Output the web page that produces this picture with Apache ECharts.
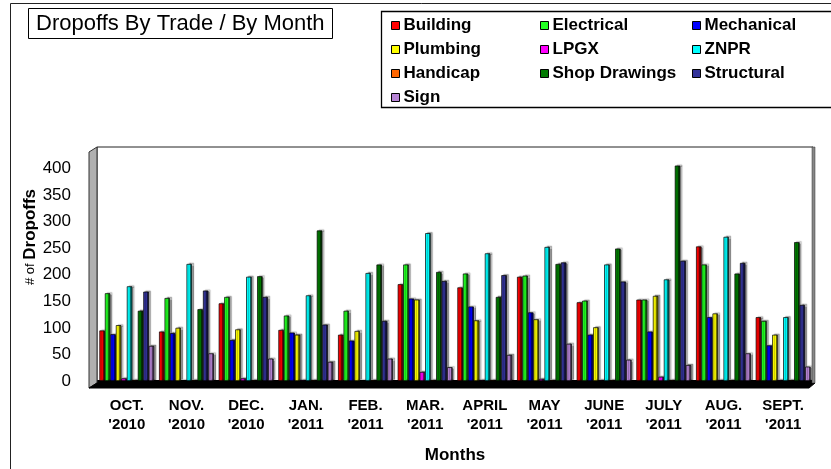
<!DOCTYPE html>
<html><head><meta charset="utf-8">
<script src="https://cdn.jsdelivr.net/npm/echarts@6/dist/echarts.min.js"></script>
<style>html,body{margin:0;padding:0;background:#fff}#c{width:831px;height:469px}</style>
</head><body><div id="c"></div>
<script>
const months = ["OCT.\n'2010","NOV.\n'2010","DEC.\n'2010","JAN.\n'2011","FEB.\n'2011","MAR.\n'2011","APRIL\n'2011","MAY\n'2011","JUNE\n'2011","JULY\n'2011","AUG.\n'2011","SEPT.\n'2011"];
const yTicks = [0,50,100,150,200,250,300,350,400];
const building   = [95,93,146,96,87,182,176,196,148,153,253,120];
const electrical = [165,156,158,123,132,219,202,198,151,153,219,113];
const mechanical = [88,90,77,91,76,155,140,129,87,93,120,67];
const plumbing   = [105,100,97,87,94,153,114,116,101,160,127,87];
const lpgx       = [5,1,5,2,1,17,2,4,2,8,2,2];
const znpr       = [178,220,196,161,203,278,240,252,219,191,271,120];
const handicap   = [2,2,2,2,2,2,2,2,2,2,2,2];
const shopDrawings = [132,135,197,283,219,205,158,220,249,405,202,261];
const structural = [168,170,158,106,113,188,199,223,187,226,222,143];
const sign       = [66,52,42,36,42,26,49,70,40,30,52,27];

const seriesDefs = [
  ['Building', building, '#FF0000'],
  ['Electrical', electrical, '#22FF22'],
  ['Mechanical', mechanical, '#0000FF'],
  ['Plumbing', plumbing, '#FFFF00'],
  ['LPGX', lpgx, '#FF00FF'],
  ['ZNPR', znpr, '#00FFFF'],
  ['Handicap', handicap, '#FF6600'],
  ['Shop Drawings', shopDrawings, '#007A00'],
  ['Structural', structural, '#333399'],
  ['Sign', sign, '#B784D6']
];
const FONT = 'Liberation Sans, Arial, sans-serif';
function darken(hex, f){
  const n = parseInt(hex.slice(1),16);
  const r = Math.round(((n>>16)&255)*f), g = Math.round(((n>>8)&255)*f), b = Math.round((n&255)*f);
  return 'rgb('+r+','+g+','+b+')';
}
const colorOf = {};
seriesDefs.forEach(d => colorOf[d[0]] = d[2]);
function legendData(names){
  return names.map(n => ({name: n, itemStyle: {color: colorOf[n], borderColor: '#000', borderWidth: 1}}));
}
function legendCol(left, names){
  return {
    orient: 'vertical', left: left, top: 13.5, icon: 'rect', itemWidth: 8, itemHeight: 8,
    itemGap: 0, padding: 0,
    textStyle: {fontFamily: FONT, fontSize: 17, fontWeight: 'bold', color: '#000', lineHeight: 24, padding: [0,0,0,-1]},
    selectedMode: false,
    data: legendData(names)
  };
}
const chart = echarts.init(document.getElementById('c'), null, {renderer: 'canvas'});
chart.setOption({
  animation: false,
  backgroundColor: '#fff',
  title: {
    text: 'Dropoffs By Trade / By Month', left: 28, top: 8,
    padding: [5, 8, 4, 8], borderColor: '#000', borderWidth: 1,
    textStyle: {fontFamily: FONT, fontSize: 22, fontWeight: 'normal', color: '#000'}
  },
  legend: [
    legendCol(391, ['Building','Plumbing','Handicap','Sign']),
    legendCol(540, ['Electrical','LPGX','Shop Drawings']),
    legendCol(692, ['Mechanical','ZNPR','Structural'])
  ],
  graphic: [
    {type: 'rect', shape: {x: 10.5, y: 3.5, width: 900, height: 600}, style: {fill: 'none', stroke: '#222', lineWidth: 1}, z: -10},
    {type: 'rect', shape: {x: 381.5, y: 11.5, width: 500, height: 96}, style: {fill: 'none', stroke: '#000', lineWidth: 1.3}, z: -5},
    {type: 'polygon', shape: {points: [[89,152],[97,147],[97,383],[89,388]]}, style: {fill: '#B0B0B0', stroke: '#333', lineWidth: 1}, z: 5},
    {type: 'polygon', shape: {points: [[89,388],[97,383],[815,383],[809,388]]}, style: {fill: '#000', stroke: '#000', lineWidth: 1}, z: 5},
    {type: 'rect', shape: {x: 812, y: 147, width: 3, height: 236}, style: {fill: '#888', stroke: '#333', lineWidth: 0.5}, z: 5},
    {type: 'text', x: 30, y: 237, rotation: Math.PI/2,
     style: {text: '{a|# of }{b|Dropoffs}', align: 'center', verticalAlign: 'middle',
       rich: {a: {fontFamily: FONT, fontSize: 13, color: '#000'}, b: {fontFamily: FONT, fontSize: 17, fontWeight: 'bold', color: '#000'}}}}
  ],
  grid: {left: 97, right: 18, top: 147, bottom: 86, show: true, borderColor: '#222', borderWidth: 1, backgroundColor: '#fff'},
  xAxis: {
    type: 'category', data: months,
    name: 'Months', nameLocation: 'middle', nameGap: 66,
    nameTextStyle: {fontFamily: FONT, fontSize: 17, fontWeight: 'bold', color: '#000'},
    axisTick: {show: false},
    axisLine: {show: true, lineStyle: {color: '#000', width: 3}},
    axisLabel: {fontFamily: FONT, fontSize: 15, fontWeight: 'bold', color: '#000', lineHeight: 19, margin: 15, interval: 0}
  },
  yAxis: {
    type: 'value', min: 0, max: 440, interval: 50,
    axisLine: {show: false}, axisTick: {show: false}, splitLine: {show: false},
    axisLabel: {fontFamily: FONT, fontSize: 17, color: '#000', margin: 26, showMaxLabel: false,
      formatter: v => yTicks.indexOf(v) >= 0 ? String(v) : ''}
  },
  series: seriesDefs.map(d => ({
    name: d[0], type: 'bar', data: d[1], barGap: '0%', barCategoryGap: '8%',
    itemStyle: {
      color: new echarts.graphic.LinearGradient(0,0,1,0,[
        {offset: 0, color: d[2]}, {offset: 0.62, color: d[2]},
        {offset: 0.62, color: darken(d[2], 0.45)}, {offset: 1, color: darken(d[2], 0.45)}]),
      borderColor: '#000', borderWidth: 0.7,
      shadowColor: 'rgba(0,0,0,0.35)', shadowBlur: 1, shadowOffsetX: 2, shadowOffsetY: -1
    }
  }))
});
</script></body></html>
